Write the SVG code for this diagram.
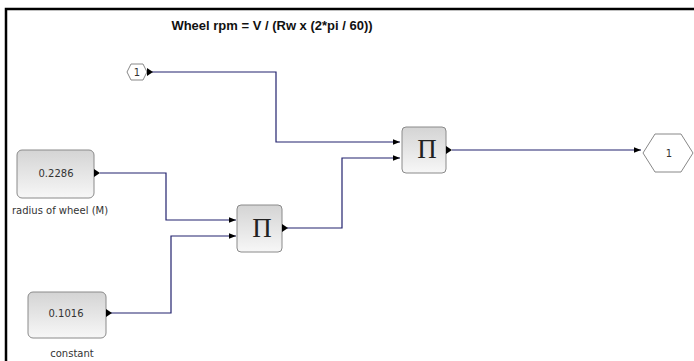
<svg xmlns="http://www.w3.org/2000/svg" width="694" height="361" viewBox="0 0 694 361">
<defs>
<linearGradient id="g" x1="0" y1="0" x2="0" y2="1">
<stop offset="0" stop-color="#d4d4d4"/>
<stop offset="1" stop-color="#f7f7f7"/>
</linearGradient>
<marker id="ah" viewBox="0 0 10 10" refX="10" refY="5" markerWidth="7" markerHeight="7" markerUnits="userSpaceOnUse" orient="auto">
<path d="M0,1 L10,5 L0,9 Z" fill="#000"/>
</marker>
</defs>
<style>
.blk{fill:url(#g);stroke:#8a8a8a;stroke-width:1}
.hex{fill:#fff;stroke:#888;stroke-width:1}
.val{font-family:"DejaVu Sans",Verdana,sans-serif;font-size:10px;fill:#333;text-anchor:middle}
.lbl{font-family:"DejaVu Sans",Verdana,sans-serif;font-size:10px;fill:#333;text-anchor:middle}
.pi{font-family:"Liberation Serif","Times New Roman",serif;font-size:27px;fill:#222;text-anchor:middle}
.ln{fill:none;stroke:#22226e;stroke-width:1.2}
.tip{fill:#000}
</style>
<rect x="0" y="0" width="694" height="361" fill="#fff"/>
<path d="M6,362 V9 H700" fill="none" stroke="#000" stroke-width="2.5"/>
<text x="272" y="30" font-family="Liberation Sans,Arial,sans-serif" font-size="13" font-weight="bold" text-anchor="middle" fill="#111">Wheel rpm = V / (Rw x (2*pi / 60))</text>

<g id="connectors">
<path class="ln" d="M152,72 H276 V142 H400" marker-end="url(#ah)"/>
<path class="ln" d="M287,228 H342 V158 H400" marker-end="url(#ah)"/>
<path class="ln" d="M100,173 H166 V220 H236" marker-end="url(#ah)"/>
<path class="ln" d="M106,313 H171 V236 H236" marker-end="url(#ah)"/>
<path class="ln" d="M452,150 H641" marker-end="url(#ah)"/>
</g>

<g id="in1">
<polygon class="hex" points="127,72 131,64 143,64 147,72 143,80 131,80"/>
<text class="lbl" x="137" y="75.5" font-size="9">1</text>
<path class="tip" d="M147,68 L153,72 L147,76 Z"/>
</g>

<g id="const1">
<rect class="blk" x="17" y="150" width="77" height="48" rx="5"/>
<text class="val" x="56" y="177">0.2286</text>
<path class="tip" d="M94,169 L100,173 L94,177 Z"/>
<text class="lbl" x="60" y="214">radius of wheel (M)</text>
</g>

<g id="const2">
<rect class="blk" x="28" y="292" width="78" height="46" rx="5"/>
<text class="val" x="66" y="317">0.1016</text>
<path class="tip" d="M106,309 L112,313 L106,317 Z"/>
<text class="lbl" x="72" y="357">constant</text>
</g>

<g id="prod1">
<rect class="blk" x="237" y="205" width="45" height="47" rx="4"/>
<text class="pi" x="262" y="237">Π</text>
<path class="tip" d="M282,224 L288,228 L282,232 Z"/>
</g>

<g id="prod2">
<rect class="blk" x="402" y="127" width="44" height="46" rx="4"/>
<text class="pi" x="427" y="158">Π</text>
<path class="tip" d="M446,146 L452,150 L446,154 Z"/>
</g>

<g id="out1">
<polygon class="hex" points="643,153 655,134 681,134 693,153 681,172 655,172"/>
<text class="lbl" x="669" y="156.5" font-size="9">1</text>
</g>
</svg>
